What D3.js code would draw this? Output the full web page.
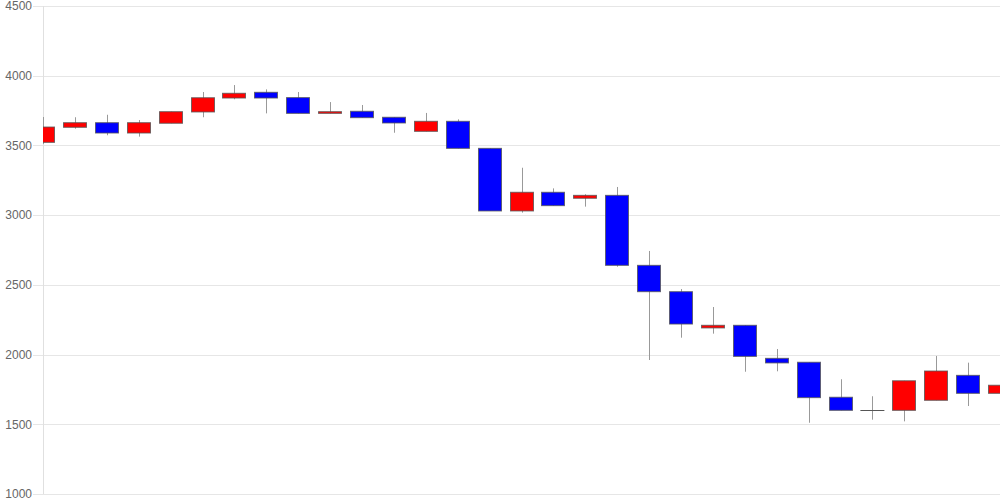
<!DOCTYPE html>
<html>
<head>
<meta charset="utf-8">
<script src="https://cdn.jsdelivr.net/npm/d3@7"></script>
<style>
html,body{margin:0;padding:0;background:#fff;}
svg{display:block;}
</style>
</head>
<body>
<svg id="chart" width="1000" height="500"></svg>
<script>
// Candle data (index order, left to right)
const days   = d3.range(31);
const opens  = [3522,3630,3663,3589,3659,3740,3840,3881,3843,3730,3745,3702,3601,3673,3479,3030,3164,3121,3142,2640,2451,2191,2210,1973,1945,1694,1603,1600,1672,1851,1722];
const closes = [3632,3663,3589,3663,3742,3842,3874,3840,3730,3742,3699,3661,3673,3479,3030,3164,3068,3142,2640,2451,2219,2210,1987,1940,1691,1600,1603,1812,1882,1722,1780];
const highs  = [3704,3702,3720,3682,3742,3883,3933,3902,3883,3811,3790,3702,3733,3687,3479,3340,3192,3150,3202,2743,2470,2341,2210,2040,1945,1823,1701,1812,1990,1942,1823];
const lows   = [3510,3620,3573,3563,3659,3702,3831,3730,3730,3730,3699,3591,3601,3479,3030,3018,3068,3061,2630,1961,2121,2150,1877,1880,1511,1600,1533,1521,1672,1631,1669];
const yTicks = [1000,1500,2000,2500,3000,3500,4000,4500];

const W = 1000, H = 500;
const m = {left:43, right:0, top:6, bottom:6};
const svg = d3.select('#chart');

const x = d3.scaleLinear().domain([0, days.length-1]).range([m.left, W - m.right]);
const y = d3.scaleLinear().domain([1000,4500]).range([H - m.bottom, m.top]);
const bw = 24;

// grid + labels
const yAxis = d3.axisLeft(y).tickValues(yTicks).tickFormat(d3.format('d'))
  .tickSize(-(W - m.left)).tickPadding(2).tickSizeOuter(0);
const ga = svg.append('g').attr('transform', `translate(${m.left},0)`).call(yAxis);
ga.select('.domain').remove();
ga.selectAll('.tick line').attr('stroke','#e6e6e6').attr('x1',-10).attr('shape-rendering','crispEdges');
ga.selectAll('.tick text').attr('fill','#666').attr('font-size',12).attr('font-family','Liberation Sans, Arial, sans-serif').attr('x',-11);

// axis line
svg.append('line').attr('x1',m.left+0.5).attr('x2',m.left+0.5).attr('y1',m.top).attr('y2',H-m.bottom)
  .attr('stroke','#e0e0e0');

svg.append('clipPath').attr('id','clip').append('rect')
  .attr('x',m.left).attr('y',0).attr('width',W-m.left).attr('height',H);

const g = svg.append('g').attr('clip-path','url(#clip)');

// wicks
g.selectAll('line.wick').data(days).join('line').attr('class','wick')
  .attr('x1', i => Math.round(x(i)) + 0.5).attr('x2', i => Math.round(x(i)) + 0.5)
  .attr('y1', i => y(highs[i])).attr('y2', i => y(lows[i]))
  .attr('stroke','#999').attr('stroke-width',1);

// bodies
g.selectAll('rect.body').data(days.filter(i => opens[i] !== closes[i])).join('rect').attr('class','body')
  .attr('x', i => Math.round(x(i) - bw/2) + 0.5)
  .attr('width', bw - 1)
  .attr('y', i => y(Math.max(opens[i], closes[i])))
  .attr('height', i => Math.max(1, Math.abs(y(opens[i]) - y(closes[i]))))
  .attr('fill', i => closes[i] > opens[i] ? '#ff0000' : '#0000ff')
  .attr('stroke','#555').attr('stroke-opacity',0.8).attr('stroke-width',1);

// doji
g.selectAll('line.doji').data(days.filter(i => opens[i] === closes[i])).join('line').attr('class','doji')
  .attr('x1', i => x(i) - bw/2).attr('x2', i => x(i) + bw/2)
  .attr('y1', i => Math.round(y(opens[i])) + 0.5).attr('y2', i => Math.round(y(opens[i])) + 0.5)
  .attr('stroke','#555').attr('stroke-width',1);
</script>
</body>
</html>
